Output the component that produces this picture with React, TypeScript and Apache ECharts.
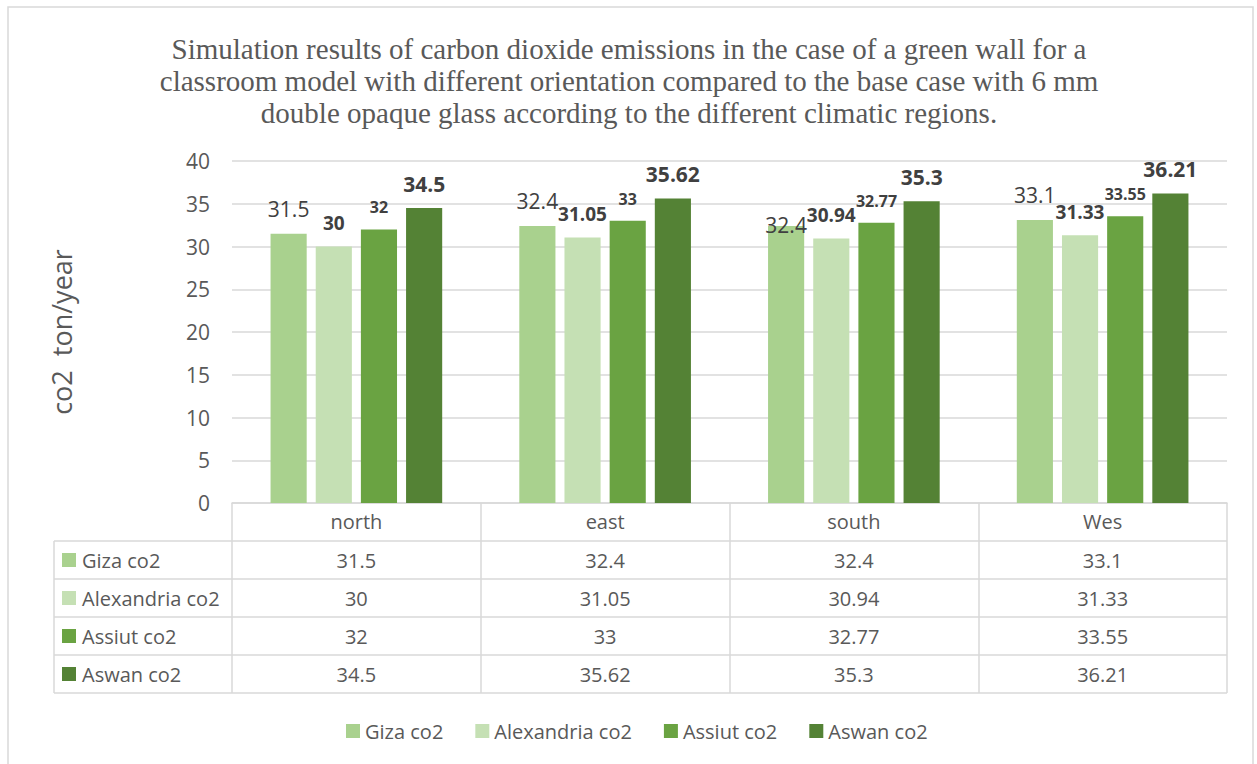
import React, { useEffect, useRef } from 'react';
import * as echarts from 'echarts';

const categories = ['north', 'east', 'south', 'Wes'];
const seriesNames = ['Giza co2', 'Alexandria co2', 'Assiut co2', 'Aswan co2'];
const gizaValues = [31.5, 32.4, 32.4, 33.1];
const alexandriaValues = [30, 31.05, 30.94, 31.33];
const assiutValues = [32, 33, 32.77, 33.55];
const aswanValues = [34.5, 35.62, 35.3, 36.21];
const seriesColors = ['#A9D18E', '#C5E0B4', '#6AA342', '#548235'];
const titleLines = [
  'Simulation results of carbon dioxide emissions in the case of a green wall for a',
  'classroom model with different orientation compared to the base case with 6 mm',
  'double opaque glass according to the different climatic regions.',
];
const yAxisTitle = 'co2  ton/year';
const yMin = 0;
const yMax = 40;
const yInterval = 5;

const FONT = 'Open Sans';
const TEXT = '#595959';
const LABEL = '#404040';
const LINE = '#D9D9D9';

export default function App() {
  const ref = useRef<HTMLDivElement>(null);

  useEffect(() => {
    document.body.style.margin = '0';
    const chart = echarts.init(ref.current!, null, { renderer: 'svg' });
    const W = 1257;
    const H = 764;
    const grid = { left: 232, right: 30, top: 161, bottom: 261 };
    const plotW = W - grid.left - grid.right;
    const colW = plotW / categories.length;
    const axisY = H - grid.bottom;
    const headerH = 38;
    const rowH = 38;
    const tableLeft = 54;
    const tableRight = W - grid.right;
    const allValues = [gizaValues, alexandriaValues, assiutValues, aswanValues];

    const labelStyles = [
      { fontSize: 21, fontWeight: 'normal' },
      { fontSize: 19, fontWeight: 'bold' },
      { fontSize: 16, fontWeight: 'bold' },
      { fontSize: 21, fontWeight: 'bold' },
    ];

    const graphics: any[] = [];
    graphics.push({
      type: 'rect',
      shape: { x: 8, y: 7, width: 1245, height: 820 },
      style: { fill: 'none', stroke: LINE, lineWidth: 1.5 },
      silent: true,
      z: -10,
    });
    graphics.push({
      type: 'text',
      x: 629,
      y: 33,
      style: {
        text: titleLines.join('\n'),
        fontFamily: 'Liberation Serif',
        fontSize: 29,
        lineHeight: 32,
        fill: TEXT,
        align: 'center',
        verticalAlign: 'top',
      },
      silent: true,
    });
    for (let i = 0; i <= seriesNames.length; i++) {
      const y = axisY + headerH + i * rowH;
      graphics.push({
        type: 'line',
        shape: { x1: tableLeft, y1: y, x2: tableRight, y2: y },
        style: { stroke: LINE, lineWidth: 1.5 },
        silent: true,
      });
    }
    graphics.push({
      type: 'line',
      shape: {
        x1: tableLeft,
        y1: axisY + headerH,
        x2: tableLeft,
        y2: axisY + headerH + seriesNames.length * rowH,
      },
      style: { stroke: LINE, lineWidth: 1.5 },
      silent: true,
    });
    seriesNames.forEach((name, i) => {
      const cy = axisY + headerH + (i + 0.5) * rowH;
      graphics.push({
        type: 'rect',
        shape: { x: 62, y: cy - 7, width: 14, height: 14 },
        style: { fill: seriesColors[i] },
        silent: true,
      });
      graphics.push({
        type: 'text',
        x: 82,
        y: cy,
        style: {
          text: name,
          fontSize: 20,
          fontFamily: FONT,
          fill: TEXT,
          align: 'left',
          verticalAlign: 'middle',
        },
        silent: true,
      });
      allValues[i].forEach((v, j) => {
        graphics.push({
          type: 'text',
          x: grid.left + (j + 0.5) * colW,
          y: cy,
          style: {
            text: String(v),
            fontSize: 20,
            fontFamily: FONT,
            fill: TEXT,
            align: 'center',
            verticalAlign: 'middle',
          },
          silent: true,
        });
      });
    });

    const series = allValues.map((vals, i) => ({
      name: seriesNames[i],
      type: 'bar',
      barGap: '25%',
      barCategoryGap: '31%',
      itemStyle: { color: seriesColors[i] },
      label: {
        show: true,
        position: 'top',
        distance: 14,
        color: LABEL,
        fontFamily: FONT,
        fontSize: labelStyles[i].fontSize,
        fontWeight: labelStyles[i].fontWeight,
      },
      data: vals.map((v, j) =>
        i === 0 && j === 2 ? { value: v, label: { offset: [0, 24] } } : v
      ),
    }));

    chart.setOption({
      animation: false,
      textStyle: { fontFamily: FONT },
      legend: {
        data: seriesNames,
        left: 341,
        top: 716,
        icon: 'rect',
        itemWidth: 14,
        itemHeight: 14,
        itemGap: 32,
        textStyle: { fontSize: 20, color: TEXT, fontFamily: FONT },
      },
      grid: { ...grid, containLabel: false },
      xAxis: {
        type: 'category',
        data: categories,
        axisLine: { show: true, lineStyle: { color: LINE, width: 1.5 } },
        axisTick: {
          show: true,
          length: headerH + seriesNames.length * rowH,
          lineStyle: { color: LINE, width: 1.5 },
        },
        axisLabel: { margin: 8, fontSize: 20, color: TEXT, fontFamily: FONT },
      },
      yAxis: {
        type: 'value',
        min: yMin,
        max: yMax,
        interval: yInterval,
        name: yAxisTitle,
        nameLocation: 'middle',
        nameGap: 157,
        nameTextStyle: { fontSize: 27, color: TEXT, fontFamily: FONT },
        axisLine: { show: false },
        axisTick: { show: false },
        axisLabel: { margin: 22, fontSize: 21, color: TEXT, fontFamily: FONT },
        splitLine: { lineStyle: { color: LINE, width: 1.5 } },
      },
      series,
      graphic: graphics,
    });

    return () => chart.dispose();
  }, []);

  return <div ref={ref} style={{ width: 1257, height: 764 }} />;
}
